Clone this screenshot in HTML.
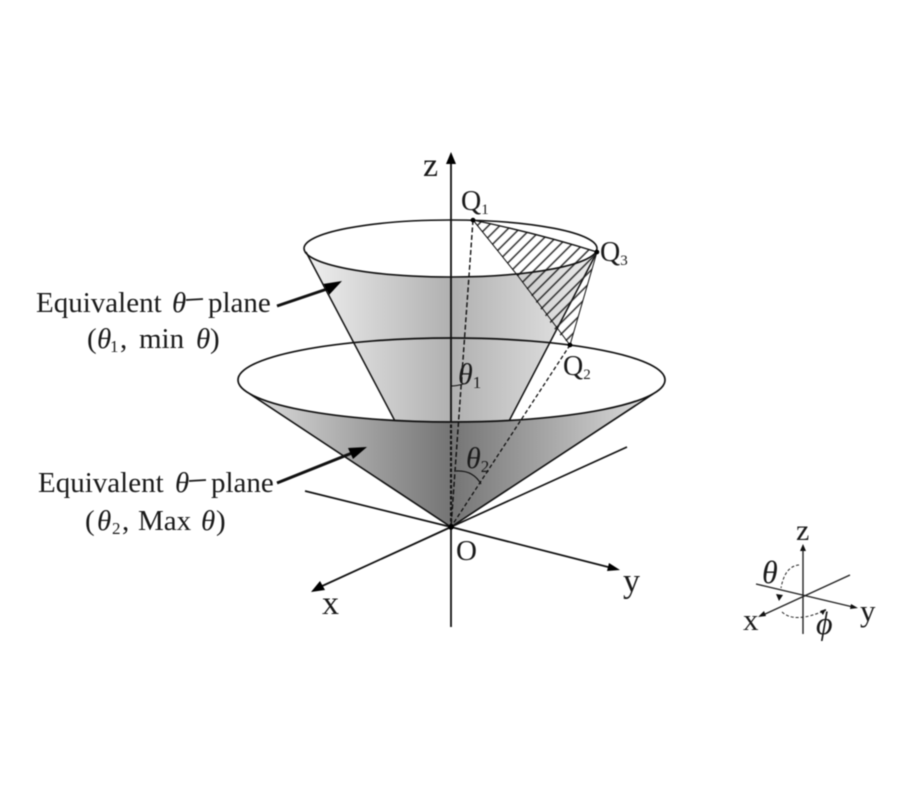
<!DOCTYPE html>
<html>
<head>
<meta charset="utf-8">
<style>
html,body{margin:0;padding:0;background:#fff;}
svg{display:block;}
text{font-family:"Liberation Serif",serif;fill:#1a1a1a;}
.blur{filter:blur(0.6px);}
</style>
</head>
<body>
<svg width="900" height="800" viewBox="0 0 900 800" xmlns="http://www.w3.org/2000/svg">
<defs>
<linearGradient id="gu" x1="306" x2="597" y1="0" y2="0" gradientUnits="userSpaceOnUse">
<stop offset="0" stop-color="#f0f0f0"/>
<stop offset="0.5" stop-color="#b0b0b0"/>
<stop offset="1" stop-color="#ededed"/>
</linearGradient>
<linearGradient id="gl" x1="250" x2="653" y1="0" y2="0" gradientUnits="userSpaceOnUse">
<stop offset="0" stop-color="#dedede"/>
<stop offset="0.5" stop-color="#747474"/>
<stop offset="1" stop-color="#dedede"/>
</linearGradient>
<pattern id="h" width="8" height="8" patternUnits="userSpaceOnUse" patternTransform="rotate(-45)">
<rect width="8" height="8" fill="none"/>
<line x1="0" y1="1" x2="8" y2="1" stroke="#222" stroke-width="1.400"/>
</pattern>
</defs>
<rect width="900" height="800" fill="#fff"/>
<g class="blur" fill="none" stroke="#111">
<!-- upper cone -->
<path d="M306,252 L396,423 L508,423 L597,252 A146.500,28.500 0 0 1 306,252 Z" fill="url(#gu)" stroke="none"/>
<path d="M306,252 L396,423" stroke-width="1.500"/>
<path d="M597,252 L508,423" stroke-width="1.500"/>
<!-- hatch -->
<path d="M473,220 Q540,234 597,252 L570,345 L556,331 L518,276 Z" fill="url(#h)" stroke="none"/>
<path d="M473,220 Q540,234 597,252" stroke-width="1.400"/>
<path d="M473,220 L518,276 L570,345 L597,252" stroke-width="1"/>
<!-- upper ellipse -->
<ellipse cx="450.500" cy="248.500" rx="146.500" ry="28.500" stroke-width="1.600"/>
<!-- lower cone -->
<path d="M250,394 A213.500,42 0 0 0 653,394 L451,527 Z" fill="url(#gl)" stroke="none"/>
<path d="M250,394 L451,527 L653,394" stroke-width="1.600"/>
<ellipse cx="451.500" cy="380" rx="213.500" ry="42" stroke-width="1.700"/>
<!-- back lines -->
<path d="M305,491 L451,527" stroke-width="1.700"/>
<path d="M627,447 L451,527" stroke-width="1.700"/>
<!-- dashed -->
<path d="M473,220 L451,527" stroke-width="1.400" stroke-dasharray="5 2.500"/>
<path d="M570,345 L451,527" stroke-width="1.300" stroke-dasharray="4 2.500"/>
<!-- axes -->
<path d="M451,627 L451,527" stroke-width="1.800"/>
<path d="M451,527 L451,422" stroke-width="2" stroke-dasharray="3.500 2"/>
<path d="M451,422 L451,160" stroke-width="1.800"/>
<path d="M451,527 L612,568" stroke-width="1.800"/>
<path d="M451,527 L320,587" stroke-width="1.800"/>
<!-- angle arcs -->
<path d="M451,386 Q457,386 463,384" stroke-width="1"/>
<path d="M456,471 Q473,470 481,484" stroke-width="1.200"/>
<!-- label arrows -->
<path d="M277,306 L330,288" stroke-width="3"/>
<path d="M277,483 L352,453" stroke-width="3"/>
</g>
<g class="blur" fill="#000" stroke="none">
<path d="M451,152 L446,164 L456,164 Z"/>
<path d="M620,570 L609,563 L607,571 Z"/>
<path d="M311,592 L325,590 L320,581 Z"/>
<path d="M342,281 L323,284 L329,295 Z"/>
<path d="M367,447 L348,448 L353,459 Z"/>
<circle cx="473" cy="220" r="2.300"/>
<circle cx="597" cy="252" r="2.300"/>
<circle cx="570" cy="345" r="2.300"/>
<circle cx="451" cy="527" r="2.700"/>
</g>
<g class="blur">
<text x="423" y="176" font-size="34">z</text>
<text x="461" y="210" font-size="28">Q<tspan font-size="15" dy="4">1</tspan></text>
<text x="600" y="261" font-size="28">Q<tspan font-size="15" dy="4">3</tspan></text>
<text x="563" y="375" font-size="28">Q<tspan font-size="15" dy="4">2</tspan></text>
<text x="458" y="384" font-size="30" font-style="italic">θ<tspan font-size="17" font-style="normal" dy="4">1</tspan></text>
<text x="466" y="468" font-size="30" font-style="italic">θ<tspan font-size="17" font-style="normal" dy="4">2</tspan></text>
<text x="456" y="560" font-size="29">O</text>
<text x="623" y="592" font-size="34">y</text>
<text x="322" y="614" font-size="34">x</text>

<text x="36" y="312" font-size="29">Equivalent</text>
<text x="172" y="312" font-size="29" font-style="italic">θ</text>
<path d="M186,300 L203,299" stroke="#1a1a1a" stroke-width="1.800" fill="none"/>
<text x="208" y="312" font-size="29">plane</text>
<text x="87" y="348" font-size="29">(</text>
<text x="97" y="348" font-size="29" font-style="italic">θ</text>
<text x="110" y="352" font-size="17">1</text>
<text x="120" y="348" font-size="29">,</text>
<text x="139" y="348" font-size="29">min</text>
<text x="196" y="348" font-size="29" font-style="italic">θ</text>
<text x="210" y="348" font-size="29">)</text>

<text x="38" y="492" font-size="29">Equivalent</text>
<text x="175" y="492" font-size="29" font-style="italic">θ</text>
<path d="M189,481 L206,480" stroke="#1a1a1a" stroke-width="1.800" fill="none"/>
<text x="211" y="492" font-size="29">plane</text>
<text x="85" y="530" font-size="29">(</text>
<text x="97" y="530" font-size="29" font-style="italic">θ</text>
<text x="112" y="534" font-size="17">2</text>
<text x="122" y="530" font-size="29">,</text>
<text x="138" y="530" font-size="29">Max</text>
<text x="201" y="530" font-size="29" font-style="italic">θ</text>
<text x="216" y="530" font-size="29">)</text>
</g>
<!-- mini axes -->
<g class="blur" fill="none" stroke="#222">
<path d="M803,634 L803,550" stroke-width="1.400"/>
<path d="M756,584 L853,607" stroke-width="1.400"/>
<path d="M850,575 L763,615" stroke-width="1.400"/>
<path d="M799,565 Q785,566 781,588" stroke-width="1" stroke-dasharray="3 2"/>
<path d="M782,612 Q795,624 826,610" stroke-width="1" stroke-dasharray="3 2"/>
</g>
<g class="blur" fill="#111" stroke="none">
<path d="M803,544 L800,551 L806,551 Z"/>
<path d="M858,608 L851,604 L850,609 Z"/>
<path d="M758,617 L766,616 L764,611 Z"/>
<path d="M779,601 L776,594 L783,595 Z"/>
<path d="M826,609 L820,611 L823,615 Z"/>
</g>
<g class="blur">
<text x="796" y="540" font-size="30">z</text>
<text x="762" y="583" font-size="32" font-style="italic">θ</text>
<text x="860" y="621" font-size="31">y</text>
<text x="743" y="630" font-size="31">x</text>
<text x="816" y="634" font-size="32" font-style="italic">ϕ</text>
</g>
</svg>
</body>
</html>
